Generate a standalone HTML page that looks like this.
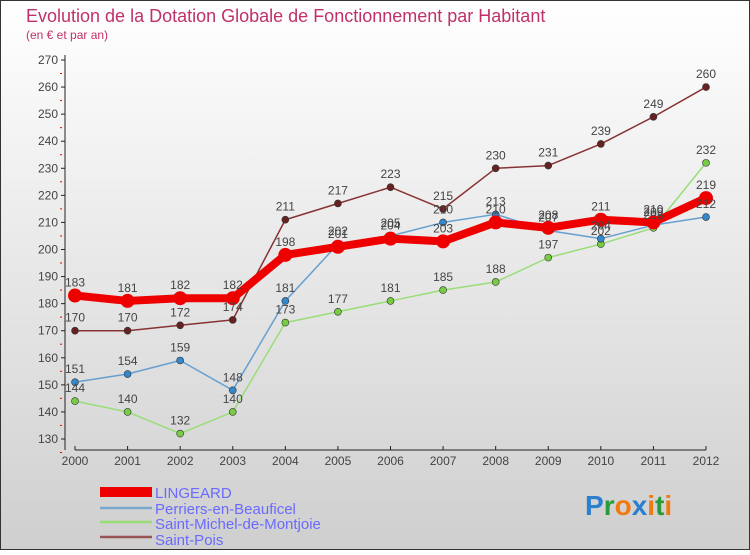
<!DOCTYPE html>
<html><head><meta charset="utf-8"><style>
body{margin:0;width:750px;height:550px;overflow:hidden;font-family:"Liberation Sans",sans-serif}
</style></head><body>
<svg id="c" width="750" height="550" xmlns="http://www.w3.org/2000/svg">
<defs><linearGradient id="bg" x1="0" y1="0" x2="0" y2="1"><stop offset="0" stop-color="#ffffff"/><stop offset="1" stop-color="#cfcfcf"/></linearGradient></defs>
<rect x="0.5" y="0.5" width="749" height="549" fill="url(#bg)" stroke="#333"/>
<text x="26" y="22" font-size="18" fill="#c0306a">Evolution de la Dotation Globale de Fonctionnement par Habitant</text>
<text x="26" y="39" font-size="12" fill="#c0306a">(en € et par an)</text>
<g id="axes"></g><g id="series"></g><g id="labels"></g>
<g>
<rect x="100" y="487" width="52" height="10" fill="#e00"/>
<text x="155" y="498" font-size="15" fill="#6a6aff">LINGEARD</text>
<line x1="100" y1="508" x2="152" y2="508" stroke="#7aa8cc" stroke-width="2.5"/>
<text x="155" y="514" font-size="15" fill="#6a6aff">Perriers-en-Beauficel</text>
<line x1="100" y1="522" x2="152" y2="522" stroke="#99dd77" stroke-width="2.5"/>
<text x="155" y="529" font-size="15" fill="#6a6aff">Saint-Michel-de-Montjoie</text>
<line x1="100" y1="537" x2="152" y2="537" stroke="#995555" stroke-width="2.5"/>
<text x="155" y="545" font-size="15" fill="#6a6aff">Saint-Pois</text>
</g>
<g font-size="28" font-weight="bold">
<text x="585" y="515"><tspan fill="#2a7fd0">P</tspan><tspan fill="#2a9a3a">r</tspan><tspan fill="#f07a10">o</tspan><tspan fill="#2a7fd0">x</tspan><tspan fill="#f07a10">i</tspan><tspan fill="#2a9a3a">t</tspan><tspan fill="#f07a10">i</tspan></text>
</g>
</svg>
<script>
const years=[2000,2001,2002,2003,2004,2005,2006,2007,2008,2009,2010,2011,2012];
const yTicks=[130,140,150,160,170,180,190,200,210,220,230,240,250,260,270];
const lingeard=[183,181,182,182,198,201,204,203,210,208,211,210,219];
const perriers=[151,154,159,148,181,202,205,210,213,207,204,209,212];
const saintMichel=[144,140,132,140,173,177,181,185,188,197,202,208,232];
const saintPois=[170,170,172,174,211,217,223,215,230,231,239,249,260];
const NS="http://www.w3.org/2000/svg";
function X(i){return 75+i*(706-75)/(years.length-1);}
function Y(v){return 439-(v-130)*(439-60)/140;}
function mk(t,a,p){const e=document.createElementNS(NS,t);for(const k in a)e.setAttribute(k,a[k]);p.appendChild(e);return e;}
const ax=document.getElementById('axes');
mk('line',{x1:65,y1:55,x2:65,y2:450,stroke:'#222'},ax);
mk('line',{x1:75,y1:450,x2:706,y2:450,stroke:'#222'},ax);
yTicks.forEach(v=>{const y=Y(v);
 mk('line',{x1:61,y1:y,x2:65,y2:y,stroke:'#222'},ax);
 mk('line',{x1:60,y1:y+13.5,x2:62,y2:y+13.5,stroke:'#e00'},ax);
 const t=mk('text',{x:58,y:y+4,'font-size':12,fill:'#444','text-anchor':'end'},ax);t.textContent=v;
 
 });
years.forEach((yr,i)=>{const x=X(i);
 mk('line',{x1:x,y1:446,x2:x,y2:450,stroke:'#222'},ax);
 const t=mk('text',{x:x,y:465,'font-size':12,fill:'#444','text-anchor':'middle'},ax);t.textContent=yr;
 
 });
const sg=document.getElementById('series'),lg=document.getElementById('labels');
function draw(vals,name,lc,dc,w,r){
 const g=mk('g',{},sg);
 
 
 mk('polyline',{points:vals.map((v,i)=>X(i)+','+Y(v)).join(' '),fill:'none',stroke:lc,'stroke-width':w,'stroke-linejoin':'round'},g);
 vals.forEach((v,i)=>{const c=mk('circle',{cx:X(i),cy:Y(v),r:r,fill:dc,stroke:'#333','stroke-width':r>5?0:0.6},g);
  
  
  const t=mk('text',{x:X(i),y:Y(v)-9,'font-size':12,fill:'#444','text-anchor':'middle'},lg);t.textContent=v;
  
  });
}
draw(saintPois,'saint-pois','#883333','#662222',1.5,3.5);
draw(saintMichel,'saint-michel','#99dd77','#77cc44',1.5,3.5);
draw(perriers,'perriers','#66a0d0','#3388cc',1.5,3.5);
draw(lingeard,'lingeard','#ee0000','#ee0000',8,7);
</script>
</body></html>
